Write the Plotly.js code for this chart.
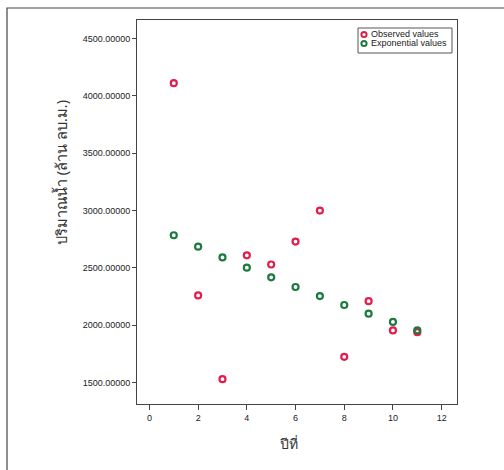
<!DOCTYPE html>
<html>
<head>
<meta charset="utf-8">
<script src="https://cdn.plot.ly/plotly-3.0.1.min.js"></script>
<style>html,body{margin:0;padding:0;background:#fff;}#chart{width:504px;height:470px;}</style>
</head>
<body>
<div id="chart"></div>
<script>
var years = [1, 2, 3, 4, 5, 6, 7, 8, 9, 10, 11];
var observed = [4110, 2260, 1530, 2610, 2530, 2730, 3000, 1725, 2210, 1955, 1940];
var exponential = [2785, 2685, 2592, 2502, 2418, 2334, 2255, 2177, 2101, 2029, 1956];
var seriesNames = ["Observed values", "Exponential values"];
var yTicks = [1500, 2000, 2500, 3000, 3500, 4000, 4500];
var xTicks = [0, 2, 4, 6, 8, 10, 12];

var W = 504, H = 470, ML = 137, MR = 47, MT = 20, MB = 66;
var PW = W - ML - MR, PH = H - MT - MB;
function px(x){ return (x - ML) / PW; }
function py(y){ return (H - MB - y) / PH; }

var colors = ["#e21d4d", "#1c7a3e"];
var mk = function(c){ return {symbol: "circle-open", size: 6, color: c, line: {width: 2.2, color: c}}; };
var traces = [
  {x: years, y: observed, type: "scatter", mode: "markers", name: seriesNames[0], marker: mk(colors[0])},
  {x: years, y: exponential, type: "scatter", mode: "markers", name: seriesNames[1], marker: mk(colors[1])}
];
var axFont = {family: "Liberation Sans, Arial, sans-serif", size: 9, color: "#222"};

var shapes = [
  {type: "rect", xref: "paper", yref: "paper", x0: px(7), x1: px(520), y0: py(520), y1: py(8),
   line: {color: "#444", width: 1.2}, fillcolor: "rgba(0,0,0,0)", layer: "below"},
  {type: "rect", xref: "paper", yref: "paper", x0: px(358), x1: px(452), y0: py(53), y1: py(28),
   line: {color: "#555", width: 1}, fillcolor: "#fff"}
];
var annotations = [
  {xref: "paper", yref: "paper", x: px(61), y: py(173), text: "ปริมาณน้ำ (ล้าน ลบ.ม.)", textangle: -90,
   showarrow: false, xanchor: "center", yanchor: "middle",
   font: {family: "Noto Sans, sans-serif", size: 14.5, color: "#333"}},
  {xref: "paper", yref: "paper", x: px(289), y: py(443), text: "ปีที่", showarrow: false,
   xanchor: "center", yanchor: "middle", font: {family: "Noto Sans, sans-serif", size: 14, color: "#333"}}
];
var itemY = [34.5, 43.5];
for (var i = 0; i < seriesNames.length; i++) {
  var cx = 364, cy = itemY[i], r = 2.6;
  shapes.push({type: "circle", xref: "paper", yref: "paper", x0: px(cx - r), x1: px(cx + r), y0: py(cy + r), y1: py(cy - r),
    line: {color: colors[i], width: 2}, fillcolor: "#fff"});
  annotations.push({xref: "paper", yref: "paper", x: px(369), y: py(cy), text: seriesNames[i], showarrow: false,
    xanchor: "left", yanchor: "middle", font: {family: "Liberation Sans, Arial, sans-serif", size: 9, color: "#222"}});
}

var layout = {
  width: W, height: H,
  margin: {l: ML, r: MR, t: MT, b: MB},
  paper_bgcolor: "#fff", plot_bgcolor: "#fff",
  showlegend: false,
  xaxis: {range: [-0.51, 12.63], tickvals: xTicks, ticktext: xTicks.map(String),
          showgrid: false, zeroline: false, showline: true, linecolor: "#444", linewidth: 1, mirror: true,
          ticks: "outside", ticklen: 5, tickcolor: "#444", tickfont: axFont},
  yaxis: {range: [1314, 4661], tickvals: yTicks, ticktext: yTicks.map(function(v){return v.toFixed(5);}),
          showgrid: false, zeroline: false, showline: true, linecolor: "#444", linewidth: 1, mirror: true,
          ticks: "outside", ticklen: 4, tickcolor: "#444", tickfont: axFont},
  shapes: shapes,
  annotations: annotations
};
Plotly.newPlot("chart", traces, layout, {displayModeBar: false, staticPlot: true});
</script>
</body>
</html>
